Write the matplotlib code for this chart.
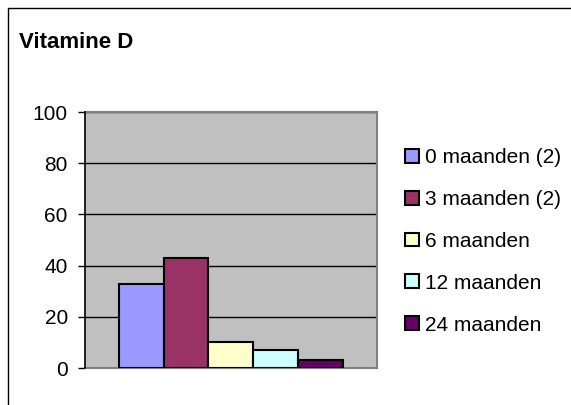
import matplotlib
matplotlib.use("Agg")
import matplotlib.pyplot as plt
from matplotlib.patches import Rectangle
import matplotlib.ticker as ticker

plt.rcParams['font.family'] = ['Liberation Sans', 'DejaVu Sans']

series = ["0 maanden (2)", "3 maanden (2)", "6 maanden", "12 maanden", "24 maanden"]
values = [33, 43, 10, 7, 3]
colors = ["#9999FF", "#993366", "#FFFFCC", "#CCFFFF", "#660066"]
title = "Vitamine D"

fig = plt.figure(figsize=(5.71, 4.05), dpi=100)
fig.patch.set_facecolor("white")

# outer chart frame (runs off the right and bottom edges)
fig.patches.append(Rectangle((8 / 571, -0.1), 1.2, (405 - 8) / 405 + 0.1,
                             transform=fig.transFigure, fill=False,
                             edgecolor="black", linewidth=1.0))

ax = fig.add_axes([84.5 / 571, 37 / 405, 292.5 / 571, 256 / 405])
ax.set_facecolor("#C0C0C0")

w = 0.153
n = len(values)
for i, (lab, v, c) in enumerate(zip(series, values, colors)):
    x = (i - (n - 1) / 2) * w
    ax.bar(x, v, width=w, color=c, edgecolor="black", linewidth=1.5,
           label=lab, zorder=3)

ax.set_xlim(-0.5, 0.5)
ax.set_ylim(0, 100)
ax.yaxis.set_major_locator(ticker.MultipleLocator(20))
ax.yaxis.grid(True, color="black", linewidth=1.0, zorder=1)
ax.set_axisbelow(True)
ax.set_xticks([])
ax.tick_params(axis="y", direction="out", length=5, width=1, pad=7,
               labelsize=15, colors="black")

for s in ["top", "right", "bottom"]:
    ax.spines[s].set_color("#808080")
    ax.spines[s].set_linewidth(1.5)
ax.spines["left"].set_color("black")
ax.spines["left"].set_linewidth(1.2)
ax.spines["left"].set_zorder(5)

fig.text(19 / 571, (405 - 42) / 405, title, fontsize=16, fontweight="bold",
         ha="left", va="center")

fig.legend(loc="upper left", bbox_to_anchor=(405 / 571, (405 - 148) / 405),
           frameon=False, fontsize=15, borderpad=0, borderaxespad=0,
           handlelength=0.65, handleheight=0.65, handletextpad=0.3,
           labelspacing=1.1)

plt.savefig("out.png", dpi=100)
